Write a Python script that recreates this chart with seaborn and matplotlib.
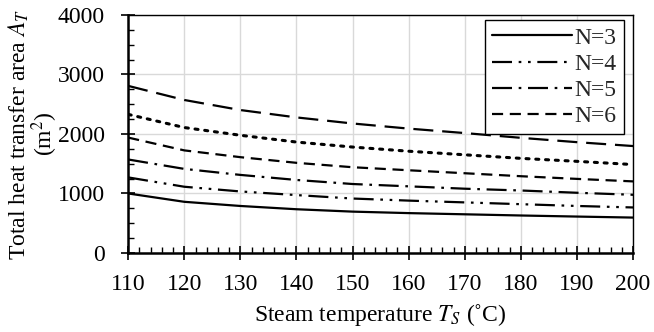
import numpy as np
import pandas as pd
import matplotlib
matplotlib.use("Agg")
import matplotlib.pyplot as plt
import seaborn as sns
from matplotlib.ticker import MultipleLocator

temps = [110, 120, 130, 140, 150, 160, 170, 180, 190, 200]
n3 = [1000, 860, 790, 735, 695, 670, 650, 630, 612, 595]
n4 = [1270, 1113, 1034, 973, 915, 880, 850, 820, 790, 765]
n5 = [1571, 1413, 1312, 1227, 1159, 1120, 1080, 1050, 1012, 978]
n6 = [1939, 1724, 1610, 1515, 1441, 1390, 1340, 1290, 1245, 1203]
n7 = [2329, 2108, 1978, 1864, 1780, 1710, 1650, 1590, 1540, 1486]
n8 = [2808, 2571, 2402, 2278, 2176, 2090, 2015, 1935, 1862, 1797]
labels = ["N=3", "N=4", "N=5", "N=6", "N=7", "N=8"]
series = [n3, n4, n5, n6, n7, n8]

styles = ["-", (0, (9, 3, 1.2, 3, 1.2, 3)), (0, (9, 3, 1.2, 3)), (0, (5, 3)),
          (0, (1, 2.2)), (0, (9, 4))]

FS = 17

sns.set_theme(style="white")
plt.rcParams["font.family"] = ["Liberation Serif", "DejaVu Serif"]
plt.rcParams["mathtext.fontset"] = "stix"

fig = plt.figure(figsize=(6.54, 3.32), dpi=100)
ax = fig.add_axes([0.196, 0.238, 0.772, 0.717])

for lab, vals, ls in zip(labels, series, styles):
    df = pd.DataFrame({"T": temps, "A": vals})
    sns.lineplot(data=df, x="T", y="A", ax=ax, color="black", linewidth=1.6,
                 label=lab, legend=False)
    line = ax.lines[-1]
    line.set_linestyle(ls)
    if ls == (0, (1, 2.2)):
        line.set_dash_capstyle("round")
        line.set_linewidth(2.2)

ax.set_xlim(110, 200)
ax.set_ylim(0, 4000)
ax.xaxis.set_major_locator(MultipleLocator(10))
ax.xaxis.set_minor_locator(MultipleLocator(2))
ax.yaxis.set_major_locator(MultipleLocator(1000))
ax.yaxis.set_minor_locator(MultipleLocator(250))
ax.grid(True, which="major", color="#d9d9d9", linewidth=1.0)
ax.set_axisbelow(True)

ax.tick_params(axis="both", which="major", direction="inout", length=10, width=1.2,
               labelsize=FS, color="black", labelcolor="black", bottom=True, left=True)
ax.tick_params(axis="both", which="minor", direction="in", length=4, width=1.0,
               color="black", bottom=True, left=True)
ax.tick_params(axis="x", which="major", pad=10)
ax.tick_params(axis="y", which="major", pad=12)
for side in ["top", "right"]:
    ax.spines[side].set_color("black")
    ax.spines[side].set_linewidth(1.0)
for side in ["left", "bottom"]:
    ax.spines[side].set_color("black")
    ax.spines[side].set_linewidth(1.8)

ax.set_xlabel("Steam temperature $T_S$ (˚C)", fontsize=FS, color="black", labelpad=5)
ax.set_ylabel("Total heat transfer area $A_T$\n(m$^2$)", fontsize=FS, color="black",
              labelpad=-2, linespacing=0.95)

handles = ax.lines[:4]
leg = ax.legend(handles, labels[:4], loc="upper right", fontsize=FS, frameon=True,
                fancybox=False, edgecolor="black", framealpha=1, handlelength=3.4,
                borderpad=0.3, labelspacing=0.2, handletextpad=0.12,
                borderaxespad=0.0, bbox_to_anchor=(0.982, 0.979))
leg.get_frame().set_linewidth(1.0)

fig.savefig("out.png", dpi=100)
